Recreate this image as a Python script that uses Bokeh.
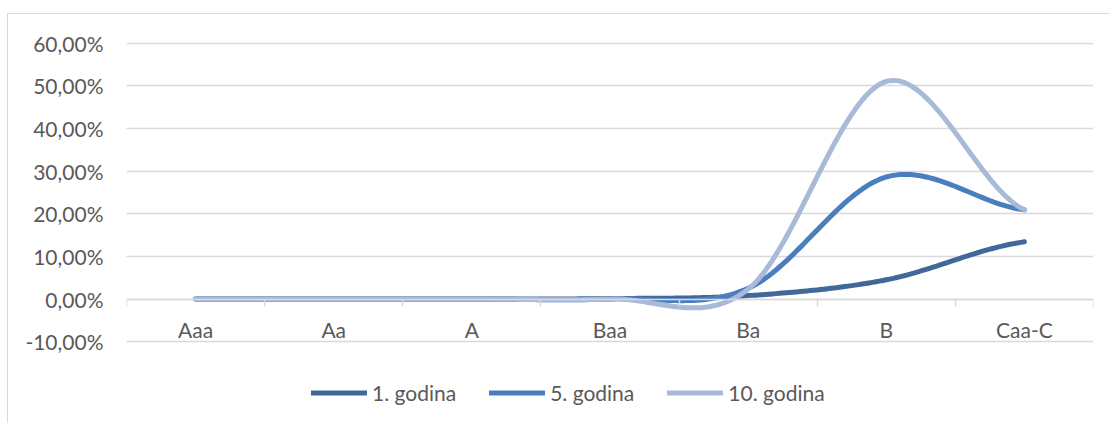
import numpy as np
from bokeh.plotting import figure
from bokeh.models import (Range1d, LinearAxis, FixedTicker, Legend, LegendItem)
from bokeh.embed import file_html
from bokeh.resources import INLINE

# ---- data ----
categories = ["Aaa", "Aa", "A", "Baa", "Ba", "B", "Caa-C"]
series_names = ["1. godina", "5. godina", "10. godina"]
godina_1 = [0.0, 0.0, 0.0, 0.1, 0.8, 4.5, 13.4]
godina_5 = [0.0, 0.0, 0.0, 0.0, 2.5, 28.6, 20.9]
godina_10 = [0.0, 0.0, 0.0, 0.0, 2.3, 51.0, 20.9]
y_ticks = [-10, 0, 10, 20, 30, 40, 50, 60]
y_tick_labels = ["-10,00%", "0,00%", "10,00%", "20,00%", "30,00%", "40,00%", "50,00%", "60,00%"]

colors = ["#416899", "#4a7ebf", "#a8b9d9"]
FONT = "Lato"
TXT = "#595959"
GRID = "#d9d9d9"


def smooth(xs, ys, n=40):
    """Catmull-Rom (Excel-like smoothed line) through the given points."""
    xs = np.asarray(xs, float)
    ys = np.asarray(ys, float)
    m = len(ys)
    tang = np.zeros(m)
    for i in range(m):
        if i == 0:
            tang[i] = (ys[1] - ys[0]) / 2
        elif i == m - 1:
            tang[i] = (ys[-1] - ys[-2]) / 2
        else:
            tang[i] = (ys[i + 1] - ys[i - 1]) / 2
    ox, oy = [], []
    for i in range(m - 1):
        t = np.linspace(0, 1, n, endpoint=(i == m - 2))
        h00 = 2 * t**3 - 3 * t**2 + 1
        h10 = t**3 - 2 * t**2 + t
        h01 = -2 * t**3 + 3 * t**2
        h11 = t**3 - t**2
        oy.extend(h00 * ys[i] + h10 * tang[i] + h01 * ys[i + 1] + h11 * tang[i + 1])
        ox.extend(xs[i] + t * (xs[i + 1] - xs[i]))
    return ox, oy


x_pos = [i + 0.5 for i in range(len(categories))]

p = figure(width=1102, height=410,
           x_range=Range1d(0, len(categories)),
           y_range=Range1d(-28.47, 60.12),
           output_backend="svg", toolbar_location=None,
           x_axis_location=None, y_axis_location=None,
           min_border_left=118, min_border_right=17,
           min_border_top=28, min_border_bottom=4,
           styles={"margin-left": "7px", "margin-top": "13px",
                   "border-left": "1.5px solid #d9d9d9",
                   "border-top": "1.5px solid #d9d9d9"})
p.outline_line_color = None
p.background_fill_color = "white"
p.border_fill_color = "white"

# y axis (labels only)
yaxis = LinearAxis(ticker=FixedTicker(ticks=y_ticks, minor_ticks=[]),
                   major_label_overrides={t: l for t, l in zip(y_ticks, y_tick_labels)})
yaxis.axis_line_color = None
yaxis.major_tick_line_color = None
yaxis.major_tick_out = 0
yaxis.minor_tick_line_color = None
yaxis.major_label_standoff = 23
yaxis.major_label_text_font = FONT
yaxis.major_label_text_font_size = "21px"
yaxis.major_label_text_color = TXT
p.add_layout(yaxis, "left")

# x axis crossing at 0, ticks at category boundaries
xaxis = LinearAxis(ticker=FixedTicker(ticks=x_pos, minor_ticks=list(range(len(categories) + 1))),
                   major_label_overrides={x: c for x, c in zip(x_pos, categories)},
                   fixed_location=0)
xaxis.axis_line_color = GRID
xaxis.axis_line_width = 1.5
xaxis.major_tick_line_color = None
xaxis.major_tick_out = 0
xaxis.major_tick_in = 0
xaxis.minor_tick_line_color = GRID
xaxis.minor_tick_line_width = 1.5
xaxis.minor_tick_out = 7
xaxis.minor_tick_in = 0
xaxis.major_label_standoff = 11
xaxis.major_label_text_font = FONT
xaxis.major_label_text_font_size = "21px"
xaxis.major_label_text_color = TXT
p.add_layout(xaxis, "below")

p.xgrid.visible = False
p.ygrid.ticker = FixedTicker(ticks=y_ticks)
p.ygrid.grid_line_color = GRID
p.ygrid.grid_line_width = 1.5

renderers = []
for name, vals, col in zip(series_names, [godina_1, godina_5, godina_10], colors):
    sx, sy = smooth(x_pos, vals)
    r = p.line(sx, sy, line_color=col, line_width=5, line_cap="round", line_join="round")
    renderers.append((name, r))

legend = Legend(items=[LegendItem(label=n, renderers=[r]) for n, r in renderers],
                orientation="horizontal", location=(185, 15))
legend.glyph_width = 56
legend.glyph_height = 25
legend.label_standoff = 5
legend.spacing = 33
legend.padding = 0
legend.margin = 0
legend.border_line_color = None
legend.background_fill_alpha = 0
legend.label_text_font = FONT
legend.label_text_font_size = "21px"
legend.label_text_color = TXT
p.add_layout(legend, "center")

open("out.html", "w").write(file_html(p, INLINE))
